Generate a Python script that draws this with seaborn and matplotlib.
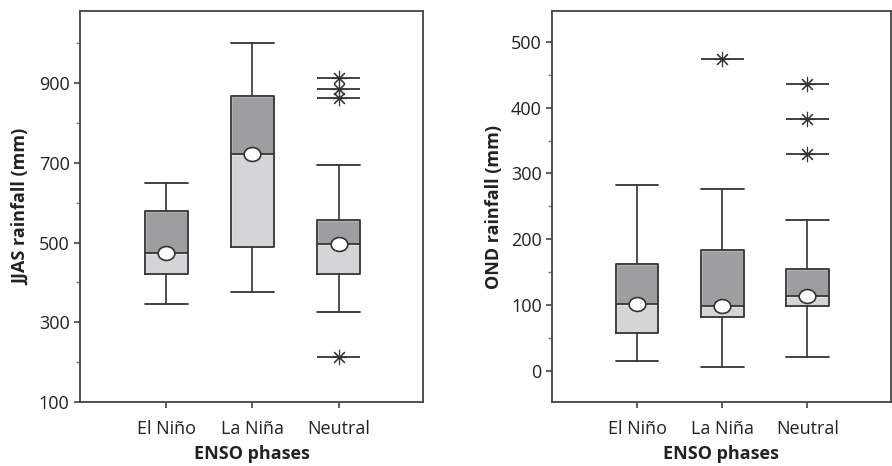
import matplotlib
matplotlib.use("Agg")
import matplotlib.pyplot as plt
import seaborn as sns
from matplotlib.path import Path
from matplotlib.transforms import Affine2D

sns.set_style("ticks")
plt.rcParams["font.family"] = ["Open Sans", "DejaVu Sans"]

# ENSO phases
phases = ["El Niño", "La Niña", "Neutral"]

# JJAS rainfall (mm) box statistics
jjas_whislo = [345, 376, 327]
jjas_q1 = [420, 489, 421]
jjas_med = [474, 722, 496]
jjas_q3 = [580, 868, 556]
jjas_whishi = [649, 1000, 695]
jjas_mean = [475, 723, 496]
jjas_fliers = [[], [], [913, 886, 862, 214]]

# OND rainfall (mm) box statistics
ond_whislo = [15, 5, 20]
ond_q1 = [58, 81, 98]
ond_med = [102, 98, 114]
ond_q3 = [162, 184, 155]
ond_whishi = [283, 277, 229]
ond_mean = [102, 98, 114]
ond_fliers = [[], [474], [436, 383, 329]]

dark = "#9c9ea0"
light = "#d3d5d6"
edge = "#333333"
ellipse = Path.unit_circle().transformed(Affine2D().scale(1.2, 1.0))
asterisk = (8, 2, 0)


def draw_panel(ax, whislo, q1, med, q3, whishi, mean, fliers):
    pos = list(range(len(phases)))
    stats = []
    for i in pos:
        stats.append(dict(whislo=whislo[i], q1=q1[i], med=med[i], q3=q3[i],
                          whishi=whishi[i], mean=mean[i], fliers=fliers[i]))
    # two-tone fill: lower half light, upper half dark
    ax.bar(pos, [m - a for m, a in zip(med, q1)], bottom=q1, width=0.5,
           color=light, zorder=1)
    ax.bar(pos, [b - m for b, m in zip(q3, med)], bottom=med, width=0.5,
           color=dark, zorder=1)
    ax.bxp(stats, positions=pos, widths=0.5, capwidths=0.5, showmeans=True,
           boxprops=dict(color=edge, linewidth=1.3),
           whiskerprops=dict(color=edge, linewidth=1.2),
           capprops=dict(color=edge, linewidth=1.3),
           medianprops=dict(color=edge, linewidth=1.3),
           meanprops=dict(marker=ellipse, markerfacecolor="white",
                          markeredgecolor=edge, markersize=12,
                          markeredgewidth=1.2),
           flierprops=dict(marker=asterisk, markeredgecolor=edge,
                           markersize=11, markeredgewidth=0.8, linestyle="none"),
           zorder=2)
    # horizontal bars through the outliers
    for i in pos:
        if fliers[i]:
            ax.hlines(fliers[i], i - 0.25, i + 0.25, color=edge,
                      linewidth=1.3, zorder=2)
    ax.set_xlim(-1.0, 2.98)
    ax.set_xticks(pos)
    ax.set_xticklabels(phases, fontsize=13, color="#222222")
    ax.set_xlabel("ENSO phases", fontsize=13, fontweight="bold",
                  color="#222222", labelpad=5)
    for s in ax.spines.values():
        s.set_visible(True)
        s.set_color("#444444")
        s.set_linewidth(1.3)
    ax.tick_params(axis="both", direction="out", length=4, width=1.2,
                   color="#444444", labelsize=13, labelcolor="#222222")
    ax.tick_params(axis="x", pad=9)
    ax.tick_params(axis="y", which="minor", length=3, width=1.0,
                   color="#777777")


fig = plt.figure(figsize=(8.92, 4.66), dpi=100)
ax1 = fig.add_axes([0.0897, 0.137, 0.3845, 0.839])
ax2 = fig.add_axes([0.619, 0.137, 0.3795, 0.839])

draw_panel(ax1, jjas_whislo, jjas_q1, jjas_med, jjas_q3, jjas_whishi,
           jjas_mean, jjas_fliers)
ax1.set_ylim(100, 1080)
ax1.set_yticks([100, 300, 500, 700, 900])
ax1.set_yticks([200, 400, 600, 800, 1000], minor=True)
ax1.set_ylabel("JJAS rainfall (mm)", fontsize=13, fontweight="bold",
               color="#222222", labelpad=6)

draw_panel(ax2, ond_whislo, ond_q1, ond_med, ond_q3, ond_whishi,
           ond_mean, ond_fliers)
ax2.set_ylim(-48, 547)
ax2.set_yticks([0, 100, 200, 300, 400, 500])
ax2.set_yticks([50, 150, 250, 350, 450], minor=True)
ax2.set_ylabel("OND rainfall (mm)", fontsize=13, fontweight="bold",
               color="#222222", labelpad=6)

fig.savefig("out.png", dpi=100)
